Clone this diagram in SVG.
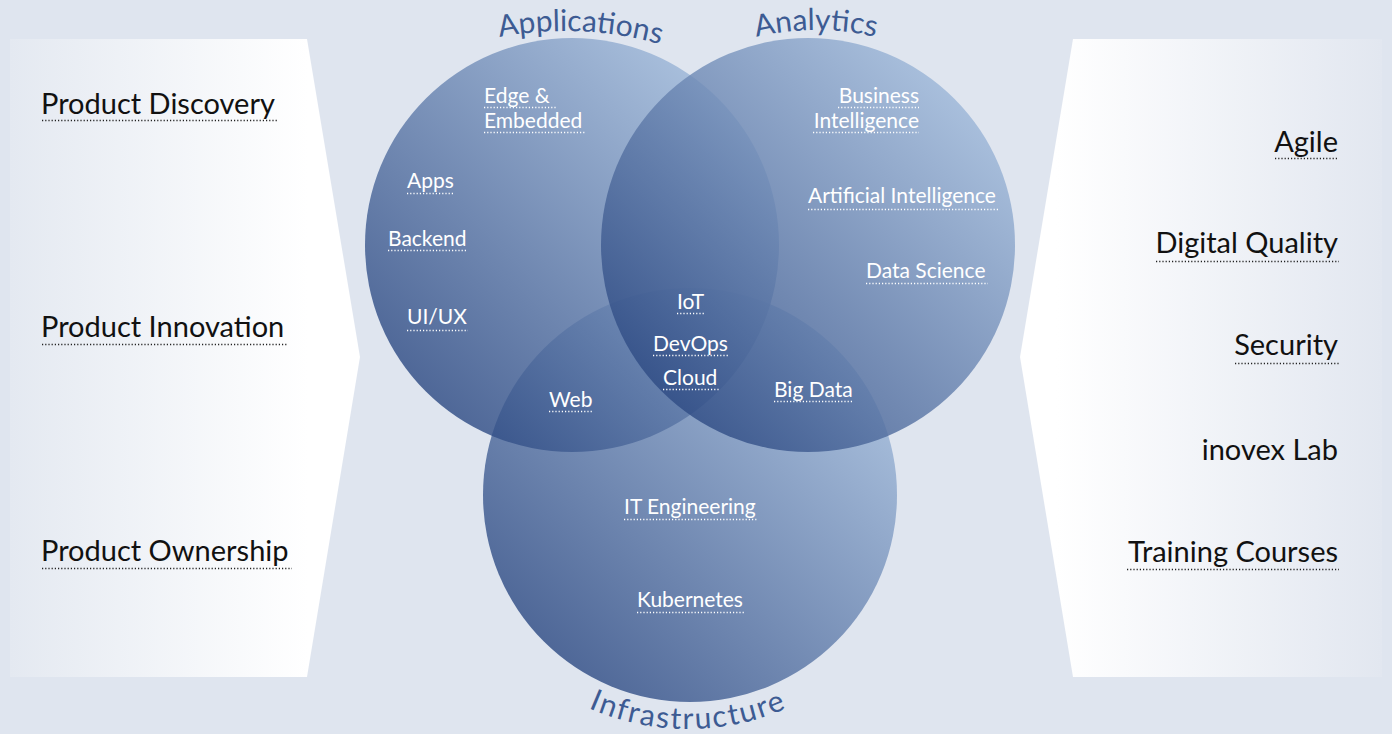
<svg xmlns="http://www.w3.org/2000/svg" width="1392" height="734" viewBox="0 0 1392 734">
<defs>
<linearGradient id="gL" x1="0" y1="0" x2="1" y2="0"><stop offset="0" stop-color="#e4e9f1"/><stop offset="0.85" stop-color="#ffffff"/></linearGradient>
<linearGradient id="gR" x1="0" y1="0" x2="1" y2="0"><stop offset="0.1" stop-color="#ffffff"/><stop offset="1" stop-color="#e2e7f0"/></linearGradient>
<linearGradient id="gC" x1="0.1" y1="0.9" x2="0.9" y2="0.1"><stop offset="0" stop-color="#28457f"/><stop offset="1" stop-color="#a3bddd"/></linearGradient>
<path id="arcApp" d="M 219 377 A 346 346 0 0 1 911 377"/>
<path id="arcAna" d="M 556 290 A 260 260 0 0 1 1076 290"/>
<path id="arcInf" d="M 441 482 A 247 247 0 0 0 935 482"/>
<style>
.side{font-family:Lato,"Liberation Sans",sans-serif;font-size:29px;fill:#111}
.in{font-family:Lato,"Liberation Sans",sans-serif;font-size:21px;fill:#ffffff}
.arc{font-family:Lato,"Liberation Sans",sans-serif;font-size:30px;fill:#3d5b93}
.ulb{stroke:#222;stroke-width:1.3;stroke-dasharray:1.2 2}
.ulw{stroke:#ffffff;stroke-width:1.3;stroke-dasharray:1.2 2}
.circ{fill:url(#gC);fill-opacity:0.82}
</style>
</defs>
<rect width="1392" height="734" fill="#dfe5ef"/>
<g id="left-panel">
<polygon points="10,39 307,39 360,357 307,677 10,677" fill="url(#gL)"/>
<text class="side" x="41" y="114">Product Discovery</text>
<line class="ulb" x1="42" y1="120.5" x2="277" y2="120.5"/>
<text class="side" x="41" y="337">Product Innovation</text>
<line class="ulb" x1="42" y1="344.5" x2="287" y2="344.5"/>
<text class="side" x="41" y="561">Product Ownership</text>
<line class="ulb" x1="42" y1="568.5" x2="292" y2="568.5"/>
</g>
<g id="right-panel">
<polygon points="1073,39 1382,39 1382,677 1073,677 1020,357" fill="url(#gR)"/>
<text class="side" x="1338" y="152" text-anchor="end">Agile</text>
<line class="ulb" x1="1275" y1="158.5" x2="1339" y2="158.5"/>
<text class="side" x="1338" y="253" text-anchor="end">Digital Quality</text>
<line class="ulb" x1="1156" y1="261.5" x2="1339" y2="261.5"/>
<text class="side" x="1338" y="355" text-anchor="end">Security</text>
<line class="ulb" x1="1235" y1="363.5" x2="1339" y2="363.5"/>
<text class="side" x="1338" y="460" text-anchor="end">inovex Lab</text>
<text class="side" x="1338" y="562" text-anchor="end">Training Courses</text>
<line class="ulb" x1="1127" y1="569.5" x2="1339" y2="569.5"/>
</g>
<g id="circle-infrastructure">
<circle class="circ" cx="690" cy="495" r="207"/>
<text class="arc" letter-spacing="1.8"><textPath href="#arcInf" startOffset="50%" text-anchor="middle">Infrastructure</textPath></text>
</g>
<g id="circle-applications">
<circle class="circ" cx="572" cy="245" r="207"/>
<text class="arc"><textPath href="#arcApp" startOffset="51.4%" text-anchor="middle">Applications</textPath></text>
</g>
<g id="circle-analytics">
<circle class="circ" cx="808" cy="245" r="207"/>
<text class="arc"><textPath href="#arcAna" startOffset="50%" text-anchor="middle">Analytics</textPath></text>
</g>
<g id="labels">
<text class="in" x="484" y="103">Edge &amp;</text>
<line class="ulw" x1="484" y1="107.5" x2="557" y2="107.5"/>
<text class="in" x="484" y="128">Embedded</text>
<line class="ulw" x1="484" y1="132.5" x2="585" y2="132.5"/>
<text class="in" x="919" y="103" text-anchor="end">Business</text>
<line class="ulw" x1="838" y1="107.5" x2="919" y2="107.5"/>
<text class="in" x="919" y="128" text-anchor="end">Intelligence</text>
<line class="ulw" x1="813" y1="132.5" x2="919" y2="132.5"/>
<text class="in" x="407" y="188">Apps</text>
<line class="ulw" x1="407" y1="193.5" x2="455" y2="193.5"/>
<text class="in" x="388" y="246">Backend</text>
<line class="ulw" x1="388" y1="250.5" x2="468" y2="250.5"/>
<text class="in" x="407" y="324">UI/UX</text>
<line class="ulw" x1="407" y1="330.5" x2="468" y2="330.5"/>
<text class="in" x="808" y="203">Artificial Intelligence</text>
<line class="ulw" x1="808" y1="209.5" x2="1000" y2="209.5"/>
<text class="in" x="866" y="278">Data Science</text>
<line class="ulw" x1="866" y1="283.5" x2="988" y2="283.5"/>
<text class="in" x="677" y="309">IoT</text>
<line class="ulw" x1="677" y1="313.5" x2="705" y2="313.5"/>
<text class="in" x="653" y="351">DevOps</text>
<line class="ulw" x1="653" y1="355.5" x2="729" y2="355.5"/>
<text class="in" x="663" y="385">Cloud</text>
<line class="ulw" x1="663" y1="389.5" x2="719" y2="389.5"/>
<text class="in" x="549" y="407">Web</text>
<line class="ulw" x1="549" y1="411.5" x2="593" y2="411.5"/>
<text class="in" x="774" y="397">Big Data</text>
<line class="ulw" x1="774" y1="401.5" x2="854" y2="401.5"/>
<text class="in" x="624" y="514">IT Engineering</text>
<line class="ulw" x1="624" y1="519.5" x2="758" y2="519.5"/>
<text class="in" x="637" y="607">Kubernetes</text>
<line class="ulw" x1="637" y1="612.5" x2="745" y2="612.5"/>
</g>
<g id="connectors"></g>
</svg>
